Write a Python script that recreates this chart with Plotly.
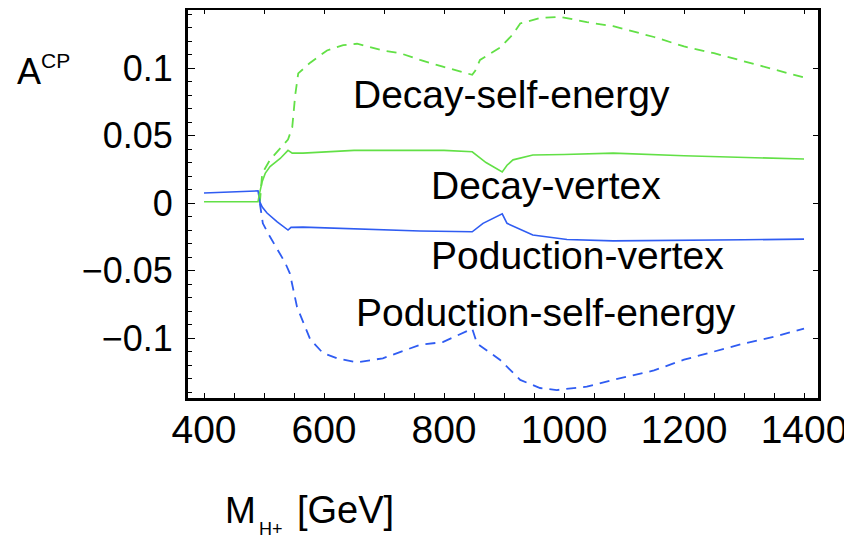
import plotly.graph_objects as go

# ---- data ----
x_decay_se = [493, 497, 510, 532, 540, 547, 552, 557, 577, 605, 632, 655, 698, 727, 760, 798, 847,
              852, 860, 893, 915, 927, 960, 993, 1038, 1082, 1150, 1200, 1250, 1300, 1350, 1400]
y_decay_se = [0.0, 0.022, 0.032, 0.043, 0.047, 0.056, 0.080, 0.096, 0.104, 0.113, 0.117, 0.118, 0.113,
              0.111, 0.106, 0.101, 0.095, 0.098, 0.106, 0.115, 0.125, 0.133, 0.137, 0.138, 0.134,
              0.131, 0.123, 0.116, 0.111, 0.105, 0.099, 0.093]

x_decay_v = [400, 490, 492, 497, 502, 510, 527, 540, 547, 565, 650, 727, 800, 847, 870, 897, 905,
             915, 948, 1000, 1082, 1200, 1300, 1400]
y_decay_v = [0.001, 0.001, 0.006, 0.016, 0.022, 0.027, 0.033, 0.039, 0.037, 0.037, 0.039, 0.039,
             0.039, 0.038, 0.030, 0.023, 0.028, 0.032, 0.0356, 0.036, 0.037, 0.035, 0.034, 0.0326]

x_prod_v = [400, 490, 493, 497, 505, 522, 540, 545, 565, 650, 760, 847, 865, 897, 905, 948, 1005,
            1082, 1200, 1300, 1400]
y_prod_v = [0.0075, 0.009, 0.001, -0.003, -0.0074, -0.014, -0.020, -0.018, -0.0178, -0.019, -0.0207,
            -0.0213, -0.015, -0.008, -0.015, -0.0237, -0.027, -0.028, -0.0278, -0.0272, -0.0267]

x_prod_se = [493, 498, 510, 535, 543, 555, 577, 598, 622, 655, 698, 730, 760, 798, 847, 855, 893,
             927, 960, 988, 1038, 1082, 1150, 1200, 1250, 1300, 1350, 1400]
y_prod_se = [0.0, -0.015, -0.025, -0.044, -0.052, -0.077, -0.101, -0.111, -0.115, -0.118, -0.115,
             -0.110, -0.105, -0.103, -0.093, -0.104, -0.116, -0.131, -0.137, -0.1385, -0.136, -0.131,
             -0.124, -0.116, -0.110, -0.104, -0.099, -0.093]

x_ticks = [400, 600, 800, 1000, 1200, 1400]
y_ticks = [-0.1, -0.05, 0, 0.05, 0.1]
y_ticktext = ["\u22120.1", "\u22120.05", "0", "0.05", "0.1"]

labels = ["Decay-self-energy", "Decay-vertex", "Poduction-vertex", "Poduction-self-energy"]
label_x = [912, 970, 1023, 970]
label_y = [0.0807, 0.0133, -0.0385, -0.0811]

GREEN = "#62e046"
BLUE = "#2f5cf2"
FONT = "Liberation Sans, Arial, sans-serif"

fig = go.Figure()
fig.add_trace(go.Scatter(x=x_decay_se, y=y_decay_se, mode="lines",
                         line=dict(color=GREEN, width=1.8, dash="10px,7px"), showlegend=False))
# drawn on the (identical) top/right axes so that those axes get rendered
fig.add_trace(go.Scatter(x=x_decay_v, y=y_decay_v, mode="lines", xaxis="x2", yaxis="y2",
                         line=dict(color=GREEN, width=1.6), showlegend=False))
fig.add_trace(go.Scatter(x=x_prod_v, y=y_prod_v, mode="lines",
                         line=dict(color=BLUE, width=1.6), showlegend=False))
fig.add_trace(go.Scatter(x=x_prod_se, y=y_prod_se, mode="lines",
                         line=dict(color=BLUE, width=1.8, dash="10px,7px"), showlegend=False))

xr = [373.3, 1423.3]
yr = [-0.1444, 0.143]

annotations = []
for t, xx, yy in zip(labels, label_x, label_y):
    annotations.append(dict(x=xx, y=yy, xref="x", yref="y", text=t, showarrow=False,
                            xanchor="center", yanchor="middle",
                            font=dict(family=FONT, size=39, color="black")))

def pa(text, x, y, size):
    return dict(x=x, y=y, xref="paper", yref="paper", text=text, showarrow=False,
                xanchor="left", yanchor="middle", font=dict(family=FONT, size=size, color="black"))

annotations += [
    pa("A", -0.2746, 0.8415, 36),
    pa("CP", -0.2365, 0.8698, 21),
    pa("M", 0.0556, -0.2887, 37),
    pa("H+", 0.1095, -0.3376, 18),
    pa("[GeV]", 0.1698, -0.2887, 38),
]

# page body has an 8px default margin, so the figure is 8px smaller than the window
fig.update_layout(
    width=844, height=531,
    margin=dict(l=180, r=34, t=2, b=141, autoexpand=False),
    paper_bgcolor="white", plot_bgcolor="white",
    font=dict(family=FONT, color="black"),
    annotations=annotations,
    xaxis=dict(range=xr, showgrid=False, zeroline=False, showline=True, linecolor="black",
               linewidth=3, ticks="inside", tickcolor="black", ticklen=5, tickwidth=1,
               tickvals=x_ticks, tickangle=0, automargin=False,
               tickfont=dict(size=39, family=FONT, color="black"),
               minor=dict(ticks="inside", dtick=50, tick0=400, ticklen=5, tickcolor="black"),
               ticklabelstandoff=-5),
    yaxis=dict(range=yr, showgrid=False, zeroline=False, showline=True, linecolor="black",
               linewidth=3, ticks="inside", tickcolor="black", ticklen=7, tickwidth=1,
               tickvals=y_ticks, ticktext=y_ticktext, automargin=False,
               tickfont=dict(size=36, family=FONT, color="black"),
               minor=dict(ticks="inside", dtick=0.01, tick0=0, ticklen=4, tickcolor="black"),
               ticklabelstandoff=5),
    xaxis2=dict(range=xr, overlaying="x", anchor="y", side="top", showgrid=False, zeroline=False,
                showline=True, linecolor="black", linewidth=3, ticks="inside", ticklen=4,
                tickcolor="black", tick0=400, dtick=100, showticklabels=False),
    yaxis2=dict(range=yr, overlaying="y", anchor="x", side="right", showgrid=False, zeroline=False,
                showline=True, linecolor="black", linewidth=3, ticks="inside", ticklen=5,
                tickcolor="black", tickvals=y_ticks, showticklabels=False),
)

fig.write_html("out.html")
